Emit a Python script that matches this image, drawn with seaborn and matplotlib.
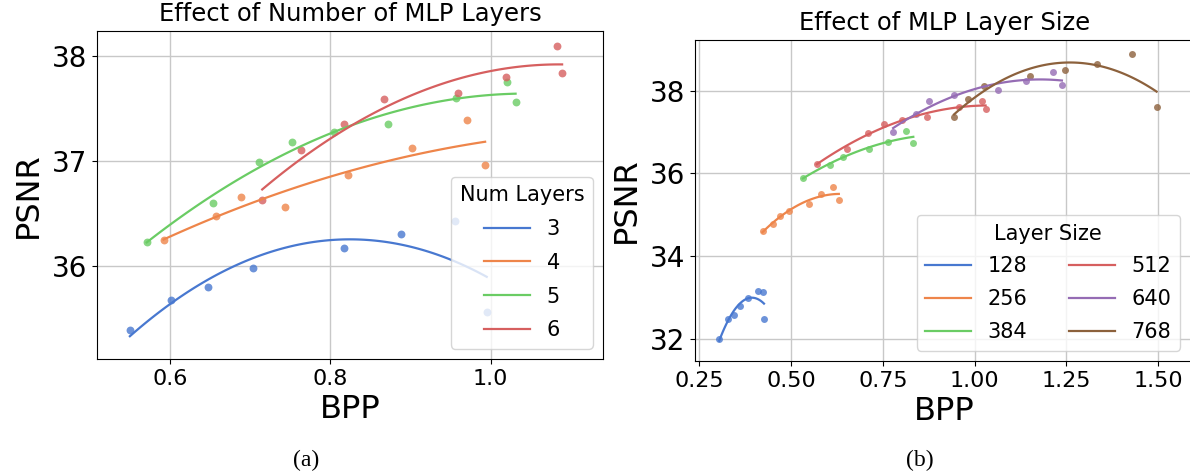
import matplotlib
matplotlib.use("Agg")
import matplotlib.pyplot as plt
import seaborn as sns

# (a) effect of number of MLP layers: BPP vs PSNR per layer count
layers_3_bpp = [0.550, 0.601, 0.648, 0.704, 0.817, 0.888, 0.955, 0.995]
layers_3_psnr = [35.39, 35.67, 35.80, 35.98, 36.17, 36.30, 36.43, 35.56]
layers_4_bpp = [0.592, 0.657, 0.689, 0.744, 0.822, 0.902, 0.970, 0.993]
layers_4_psnr = [36.25, 36.47, 36.66, 36.56, 36.87, 37.12, 37.39, 36.96]
layers_5_bpp = [0.571, 0.654, 0.711, 0.752, 0.805, 0.872, 0.957, 1.020, 1.031]
layers_5_psnr = [36.23, 36.60, 36.99, 37.18, 37.28, 37.35, 37.60, 37.75, 37.56]
layers_6_bpp = [0.715, 0.764, 0.817, 0.867, 0.959, 1.019, 1.083, 1.089]
layers_6_psnr = [36.63, 37.10, 37.35, 37.59, 37.65, 37.80, 38.10, 37.84]
num_layers = [3, 4, 5, 6]

# (b) effect of MLP layer size
size_128_bpp = [0.304, 0.328, 0.343, 0.362, 0.382, 0.411, 0.423, 0.426]
size_128_psnr = [31.99, 32.48, 32.59, 32.79, 33.00, 33.16, 33.13, 32.48]
size_256_bpp = [0.422, 0.450, 0.469, 0.495, 0.548, 0.581, 0.615, 0.630]
size_256_psnr = [34.60, 34.78, 34.98, 35.08, 35.27, 35.51, 35.67, 35.35]
size_384_bpp = [0.532, 0.607, 0.641, 0.712, 0.764, 0.812, 0.833]
size_384_psnr = [35.90, 36.20, 36.40, 36.60, 36.76, 37.03, 36.74]
size_512_bpp = [0.570, 0.652, 0.709, 0.752, 0.803, 0.870, 0.957, 1.020, 1.030]
size_512_psnr = [36.23, 36.60, 36.98, 37.19, 37.29, 37.35, 37.61, 37.75, 37.55]
size_640_bpp = [0.778, 0.841, 0.875, 0.945, 1.065, 1.140, 1.213, 1.238]
size_640_psnr = [37.01, 37.43, 37.75, 37.90, 38.01, 38.23, 38.45, 38.14]
size_768_bpp = [0.944, 0.983, 1.027, 1.151, 1.247, 1.334, 1.430, 1.496]
size_768_psnr = [37.37, 37.79, 38.11, 38.35, 38.50, 38.64, 38.87, 37.60]
layer_sizes = [128, 256, 384, 512, 640, 768]

series_a = [(layers_3_bpp, layers_3_psnr), (layers_4_bpp, layers_4_psnr),
            (layers_5_bpp, layers_5_psnr), (layers_6_bpp, layers_6_psnr)]
series_b = [(size_128_bpp, size_128_psnr), (size_256_bpp, size_256_psnr),
            (size_384_bpp, size_384_psnr), (size_512_bpp, size_512_psnr),
            (size_640_bpp, size_640_psnr), (size_768_bpp, size_768_psnr)]

palette = sns.color_palette("muted")

W, H = 1190, 473
fig = plt.figure(figsize=(W / 100, H / 100), dpi=100)
ax_a = fig.add_axes([97 / W, 1 - 359 / H, (603 - 97) / W, (359 - 31) / H])
# right panel runs off the edge of the picture, as in the paper figure
ax_b = fig.add_axes([695 / W, 1 - 361 / H, (1194 - 695) / W, (361 - 40) / H])


def draw_panel(ax, series, names, dot_size):
    for i, ((x, y), name) in enumerate(zip(series, names)):
        sns.regplot(x=x, y=y, ax=ax, order=2, ci=None, color=palette[i],
                    scatter_kws={"s": dot_size, "linewidths": 0},
                    line_kws={"linewidth": 1.6, "label": str(name)})
    ax.grid(True, color="#c8c8c8", linewidth=1.0)
    ax.set_axisbelow(True)
    ax.tick_params(axis="y", labelsize=20)
    ax.tick_params(axis="x", labelsize=16)
    ax.set_xlabel("BPP", fontsize=23, labelpad=4)
    ax.set_ylabel("PSNR", fontsize=23, labelpad=6)


draw_panel(ax_a, series_a, num_layers, 32)
ax_a.set_xlim(0.509, 1.14)
ax_a.set_ylim(35.11, 38.24)
ax_a.set_xticks([0.6, 0.8, 1.0])
ax_a.set_yticks([36, 37, 38])
ax_a.set_title("Effect of Number of MLP Layers", fontsize=17.5, pad=7)
ax_a.legend(handles=ax_a.lines, title="Num Layers", loc="lower right",
            fontsize=15, title_fontsize=15, handlelength=2.2, labelspacing=0.66)

draw_panel(ax_b, series_b, layer_sizes, 25)
ax_b.set_xlim(0.238, 1.598)
ax_b.set_ylim(31.47, 39.22)
ax_b.set_xticks([0.25, 0.5, 0.75, 1.0, 1.25, 1.5])
ax_b.set_xticklabels(["0.25", "0.50", "0.75", "1.00", "1.25", "1.50"])
ax_b.set_yticks([32, 34, 36, 38])
ax_b.set_title("Effect of MLP Layer Size", fontsize=17.5, pad=7)
ax_b.legend(handles=ax_b.lines, title="Layer Size", loc="lower right", ncol=2,
            fontsize=15, title_fontsize=15, handlelength=2.2, labelspacing=0.62,
            bbox_to_anchor=(1190 / 1194 - 0.004, 0.0))

fig.text(306 / W, 1 - 460 / H, "(a)", ha="center", va="center",
         family="Liberation Serif", fontsize=17)
fig.text(920 / W, 1 - 460 / H, "(b)", ha="center", va="center",
         family="Liberation Serif", fontsize=17)

fig.savefig("out.png", dpi=100)
